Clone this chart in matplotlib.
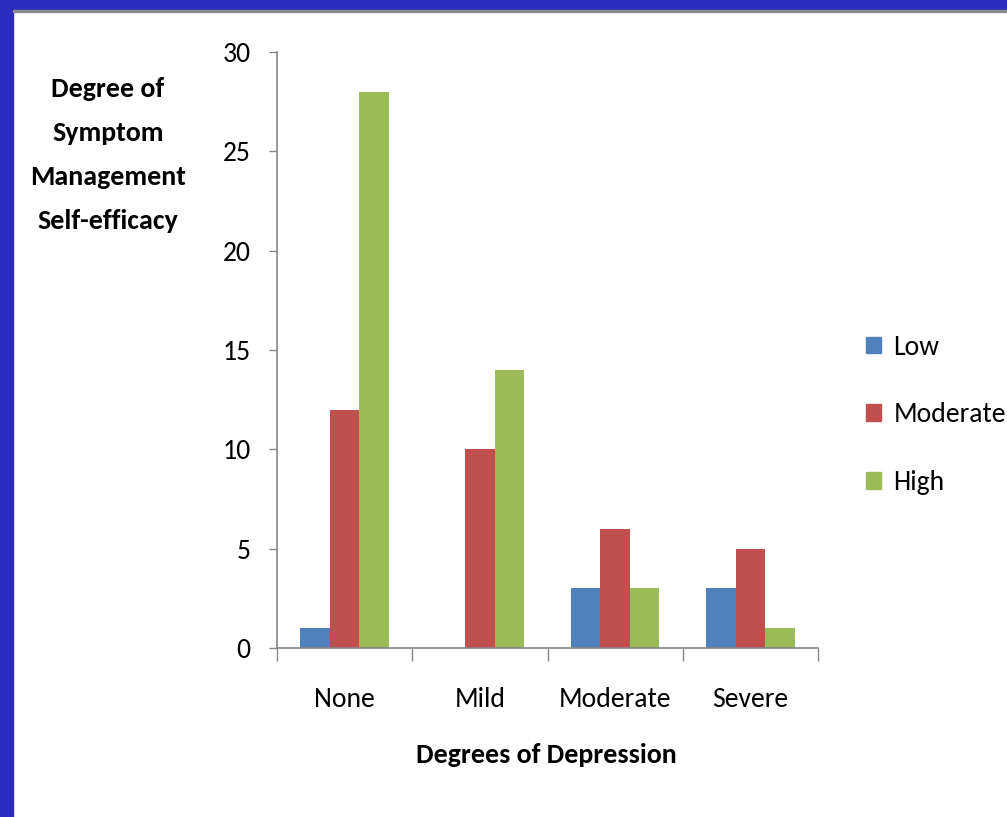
import matplotlib
matplotlib.use("Agg")
import matplotlib.pyplot as plt
from matplotlib.patches import Rectangle, Patch
from matplotlib import font_manager
import numpy as np

categories = ["None", "Mild", "Moderate", "Severe"]
series_names = ["Low", "Moderate", "High"]
low = [1, 0, 3, 3]
moderate = [12, 10, 6, 5]
high = [28, 14, 3, 1]
yticks = [0, 5, 10, 15, 20, 25, 30]
colors = ["#4F81BD", "#C0504D", "#9BBB59"]

names = {f.name for f in font_manager.fontManager.ttflist}
fam = "DejaVu Sans"
for cand in ["Carlito", "Liberation Sans Narrow", "Fira Sans Condensed", "Open Sans Condensed",
             "PT Sans Narrow", "Roboto Condensed", "Archivo Narrow", "Sofia Sans Semi Condensed",
             "Barlow Semi Condensed", "Barlow Condensed"]:
    if cand in names:
        fam = cand
        break
plt.rcParams["font.family"] = [fam, "DejaVu Sans"]

fig = plt.figure(figsize=(10.07, 8.17), dpi=100)
fig.patch.set_facecolor("white")
renderer = fig.canvas.get_renderer()


def fit_size(text, target_px, weight="normal"):
    t = fig.text(0, 0, text, fontsize=20, fontweight=weight)
    w = t.get_window_extent(renderer).width
    t.remove()
    return 20 * target_px / w


fs_tick = fit_size("Moderate", 112)
fs_bold = fit_size("Management", 155, "bold")

# slide border
fig.add_artist(Rectangle((0, 0), 13/1007, 1, transform=fig.transFigure, color="#2B2BC0", zorder=0))
fig.add_artist(Rectangle((0, 1-10/817), 1, 10/817, transform=fig.transFigure, color="#2B2BC0", zorder=0))
fig.add_artist(Rectangle((13/1007, 1-12/817), 1, 2/817, transform=fig.transFigure, color="#8C8C8C", zorder=0))

ax = fig.add_axes([277/1007, 1-648/817, (818-277)/1007, (648-52)/817])
x = np.arange(len(categories))
w = 0.218
for i, (vals, c, nm) in enumerate(zip([low, moderate, high], colors, series_names)):
    ax.bar(x + (i-1)*w, vals, w, color=c, label=nm, zorder=2)

ax.set_xlim(-0.5, len(categories)-0.5)
ax.set_ylim(0, 30)
ax.set_yticks(yticks)
ax.set_yticklabels([str(t) for t in yticks], fontsize=fs_tick)
ax.set_xticks(x)
ax.set_xticklabels(categories, fontsize=fs_tick)
ax.set_xticks(np.arange(-0.5, len(categories)), minor=True)
ax.tick_params(axis="x", which="major", length=0, pad=28)
ax.tick_params(axis="x", which="minor", length=9, width=1, color="#868686", direction="out")
ax.tick_params(axis="y", which="major", length=6, width=1, color="#868686", direction="out", pad=13)
for s in ["top", "right"]:
    ax.spines[s].set_visible(False)
for s in ["left", "bottom"]:
    ax.spines[s].set_color("#868686")
    ax.spines[s].set_linewidth(1.2)

fig.text(546/1007, 1-755/817, "Degrees of Depression", ha="center", va="center",
         fontsize=fs_bold, fontweight="bold")
fig.text(108/1007, 1-155/817, "Degree of\nSymptom\nManagement\nSelf-efficacy", ha="center", va="center",
         fontsize=fs_bold, fontweight="bold", linespacing=2.0)

handles = [Patch(color=c) for c in colors]
fig.legend(handles, series_names, loc="center left", bbox_to_anchor=(852/1007, 1-415/817),
           frameon=False, fontsize=fs_tick, handlelength=0.55, handleheight=0.55,
           handletextpad=0.45, labelspacing=1.55, borderpad=0)

fig.savefig("out.png", dpi=100)
